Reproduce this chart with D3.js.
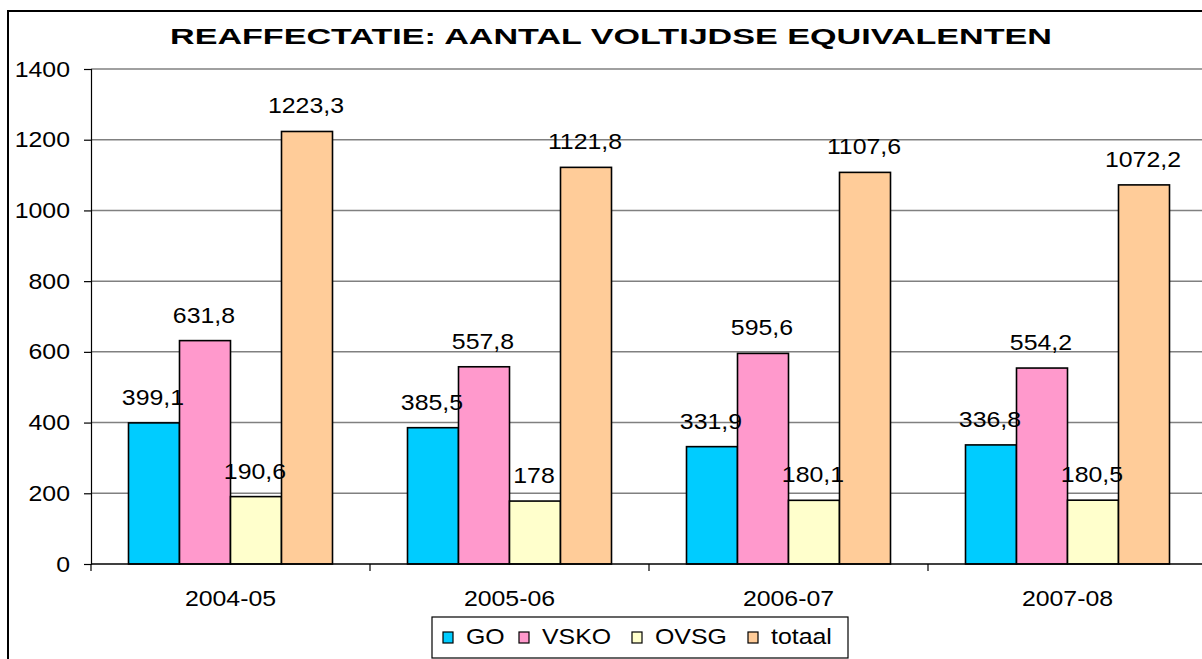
<!DOCTYPE html>
<meta charset="utf-8">
<head>
  <script src="https://cdn.jsdelivr.net/npm/d3@7"></script>
  <style>
    body { margin: 0; background: #fff; }
    text { font-family: "Liberation Sans", Arial, sans-serif; }
  </style>
</head>
<body>
<script>
// data
var categories = ["2004-05", "2005-06", "2006-07", "2007-08"];
var seriesNames = ["GO", "VSKO", "OVSG", "totaal"];
var GO = [399.1, 385.5, 331.9, 336.8];
var VSKO = [631.8, 557.8, 595.6, 554.2];
var OVSG = [190.6, 178, 180.1, 180.5];
var totaal = [1223.3, 1121.8, 1107.6, 1072.2];
var yTicks = [0, 200, 400, 600, 800, 1000, 1200, 1400];
var colors = ["#00ccff", "#ff99cc", "#ffffcc", "#ffcc99"];

var series = [GO, VSKO, OVSG, totaal];

var W = 1202, H = 659;
var x0 = 91, plotW = 1116, y0 = 564, y1 = 69;
var FS = 22, STRETCH = 1.13;

// the original font is a bit wider than Liberation Sans, so widen the text
function stretch(sel, k) {
  sel.each(function(){
    var w = this.getComputedTextLength();
    d3.select(this).attr("textLength", w * k).attr("lengthAdjust", "spacingAndGlyphs");
  });
}

var svg = d3.select("body").append("svg")
  .attr("width", W).attr("height", H);

// outer border (right/bottom cut off in the original)
svg.append("rect")
  .attr("x", 8).attr("y", 11)
  .attr("width", W + 20).attr("height", H + 20)
  .attr("fill", "#fff").attr("stroke", "#000").attr("stroke-width", 2);

var xScale = d3.scaleBand().domain(categories).range([x0, x0 + plotW]);
var inner = d3.scaleBand().domain(seriesNames)
  .range([37.5, xScale.bandwidth() - 37.5]);
var yScale = d3.scaleLinear().domain([0, 1400]).range([y0, y1]);

// gridlines
svg.append("g").selectAll("line")
  .data(yTicks.slice(1))
  .enter().append("line")
  .attr("x1", x0).attr("x2", W)
  .attr("y1", function(d){ return yScale(d); })
  .attr("y2", function(d){ return yScale(d); })
  .attr("stroke", "#808080").attr("stroke-width", 1.5);

// y axis
var yAxis = d3.axisLeft(yScale).tickValues(yTicks).tickFormat(d3.format("d"))
  .tickSize(7).tickPadding(14);
var gy = svg.append("g").attr("transform", "translate(" + x0 + ",0)").call(yAxis);
gy.select(".domain").attr("stroke", "#000").attr("stroke-width", 1.2);
gy.selectAll(".tick line").attr("stroke", "#000").attr("stroke-width", 1.2);
gy.selectAll("text").attr("font-size", FS).attr("fill", "#000")
  .style("font-family", "'Liberation Sans', Arial, sans-serif")
  .call(stretch, STRETCH);

// flat list of bars
var bars = [];
series.forEach(function(d, i){
  d.forEach(function(v, j){ bars.push({v: v, c: categories[j], s: seriesNames[i], k: i}); });
});

svg.append("g").selectAll("rect")
  .data(bars)
  .enter().append("rect")
  .attr("x", function(d){ return xScale(d.c) + inner(d.s); })
  .attr("width", inner.bandwidth())
  .attr("y", function(d){ return yScale(d.v); })
  .attr("height", function(d){ return y0 - yScale(d.v); })
  .attr("fill", function(d){ return colors[d.k]; })
  .attr("stroke", "#000").attr("stroke-width", 1.6);

// labels on top of all bars
svg.append("g").selectAll("text")
  .data(bars)
  .enter().append("text")
  .attr("x", function(d){ return xScale(d.c) + inner(d.s) + inner.bandwidth() / 2 - 1; })
  .attr("y", function(d){ return yScale(d.v) - 18; })
  .attr("text-anchor", "middle")
  .attr("font-size", FS)
  .attr("fill", "#000")
  .text(function(d){ return String(d.v).replace(".", ","); })
  .call(stretch, STRETCH);

// x axis
var xAxis = d3.axisBottom(xScale).tickSize(0);
var gx = svg.append("g").attr("transform", "translate(0," + y0 + ")").call(xAxis);
gx.select(".domain").remove();
gx.append("line").attr("x1", x0).attr("x2", W).attr("stroke", "#000").attr("stroke-width", 1.6);
gx.selectAll(".sep")
  .data(categories)
  .enter().append("line")
  .attr("x1", function(d){ return xScale(d); })
  .attr("x2", function(d){ return xScale(d); })
  .attr("y1", 0).attr("y2", 7)
  .attr("stroke", "#000").attr("stroke-width", 1.2);
gx.selectAll(".tick text").attr("font-size", FS).attr("fill", "#000")
  .attr("y", 42).attr("dy", 0)
  .style("font-family", "'Liberation Sans', Arial, sans-serif")
  .call(stretch, STRETCH);

// title
svg.append("text")
  .attr("x", 611).attr("y", 44)
  .attr("text-anchor", "middle")
  .attr("font-size", 22).attr("font-weight", "bold")
  .attr("textLength", 882).attr("lengthAdjust", "spacingAndGlyphs")
  .text("REAFFECTATIE: AANTAL VOLTIJDSE EQUIVALENTEN");

// legend
var legend = svg.append("g");
legend.append("rect")
  .attr("x", 432).attr("y", 617).attr("width", 416).attr("height", 41)
  .attr("fill", "#fff").attr("stroke", "#000").attr("stroke-width", 1.2);
var lx = [443, 519, 632, 748];
var items = legend.selectAll("g.item")
  .data(seriesNames)
  .enter().append("g")
  .attr("transform", function(d, i){ return "translate(" + lx[i] + ",632)"; });
items.append("rect")
  .attr("width", 10).attr("height", 11)
  .attr("fill", function(d, i){ return colors[i]; })
  .attr("stroke", "#000").attr("stroke-width", 1.2);
items.append("text")
  .attr("x", 23).attr("y", 12)
  .attr("font-size", FS)
  .text(function(d){ return d; })
  .call(stretch, STRETCH);
</script>
</body>
